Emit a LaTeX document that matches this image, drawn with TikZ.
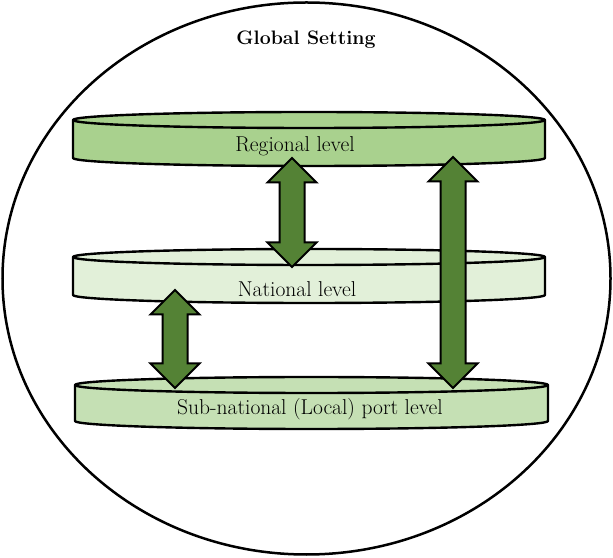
\documentclass[tikz,border=0pt]{standalone}
\usepackage{tikz}
\usetikzlibrary{shapes.arrows}
\definecolor{regfill}{HTML}{A9D18E}
\definecolor{natfill}{HTML}{E2F0D9}
\definecolor{subfill}{HTML}{C5E0B4}
\definecolor{arrowgreen}{HTML}{548235}
\tikzstyle{disk}=[draw=black, line width=2.4pt, line join=round]
\tikzstyle{lvl}=[inner sep=2pt, font=\fontsize{21.5}{24}\selectfont]
\tikzstyle{darrow}=[double arrow, rotate=90, draw=black, line width=2pt, fill=arrowgreen, inner xsep=0pt, inner ysep=11.5pt, minimum width=47pt, double arrow head extend=12pt, double arrow head indent=0pt]

\begin{document}
\begin{tikzpicture}[x=1pt, y=1pt]
	\useasboundingbox (0,0) rectangle (613,557);
	\draw[line width=2.5pt] (306.5,278.5) ellipse [x radius=304, y radius=276];
	\draw (306,517) node[lvl, font=\fontsize{19.5}{22}\selectfont\bfseries] (global) {Global Setting};
	% regional level
	\filldraw[disk, fill=regfill] (73,437) -- (73,399) arc[start angle=180, end angle=360, x radius=236, y radius=8] -- (545,437) arc[start angle=0, end angle=180, x radius=236, y radius=8] -- cycle;
	\draw[disk] (73,437) arc[start angle=180, end angle=360, x radius=236, y radius=8];
	% national level
	\filldraw[disk, fill=natfill] (73,300) -- (73,262) arc[start angle=180, end angle=360, x radius=236, y radius=8] -- (545,300) arc[start angle=0, end angle=180, x radius=236, y radius=8] -- cycle;
	\draw[disk] (73,300) arc[start angle=180, end angle=360, x radius=236, y radius=8];
	% local level
	\filldraw[disk, fill=subfill] (75,172) -- (75,136) arc[start angle=180, end angle=360, x radius=236.5, y radius=8] -- (548,172) arc[start angle=0, end angle=180, x radius=236.5, y radius=8] -- cycle;
	\draw[disk] (75,172) arc[start angle=180, end angle=360, x radius=236.5, y radius=8];
	\draw (295,411) node[lvl] (regional) {Regional level};
	\draw (297,268) node[lvl] (national) {National level};
	\draw (310,148) node[lvl] (local) {Sub-national (Local) port level};
	% arrow ends
	\coordinate (r1) at (292,399);
	\coordinate (n1) at (292,290);
	\coordinate (n2) at (175,267);
	\coordinate (s2) at (175,169);
	\coordinate (r3) at (453,400);
	\coordinate (s3) at (453,169);
	\path (r1) -- (n1) node[midway, darrow, minimum height=109pt] (arrowRN) {};
	\path (n2) -- (s2) node[midway, darrow, minimum height=98pt] (arrowNS) {};
	\path (r3) -- (s3) node[midway, darrow, minimum height=231pt] (arrowRS) {};
\end{tikzpicture}
\end{document}
